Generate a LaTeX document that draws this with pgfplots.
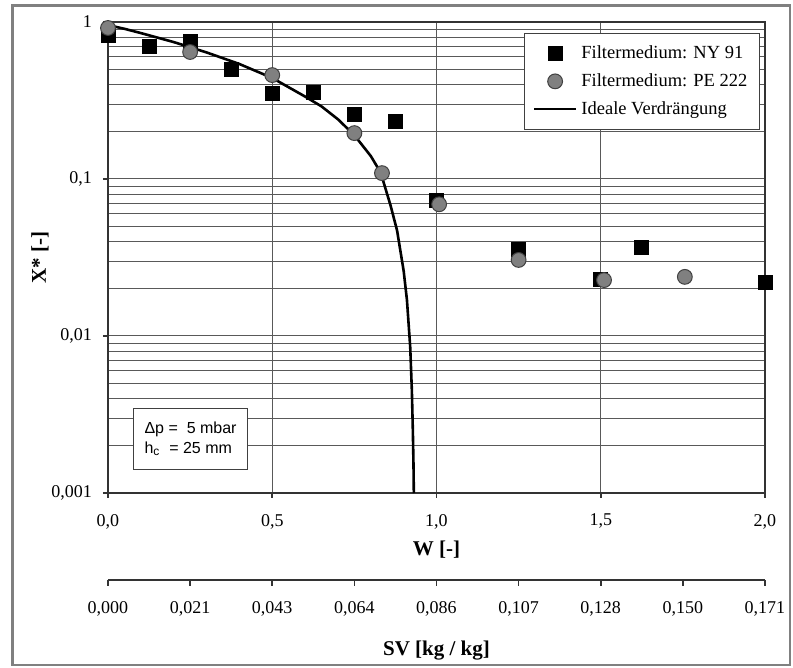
\documentclass[border=0pt]{standalone}
\usepackage{fontspec}
\setmainfont{Liberation Serif}
\newfontfamily\arialfont{Liberation Sans}
\usepackage{pgfplots}
\pgfplotsset{compat=1.18}
\definecolor{gridc}{gray}{0.35}
\definecolor{framec}{gray}{0.5}
\definecolor{pegray}{gray}{0.5}
\pgfplotsset{
  legmark/.style={legend image code/.code={\draw[mark repeat=2,mark phase=2,##1] plot coordinates {(0pt,0pt) (10.5pt,0pt) (21pt,0pt)};}},
  legline/.style={legend image code/.code={\draw[##1] (0pt,0pt) -- (21pt,0pt);}},
}

\begin{document}
\begin{tikzpicture}
\path[use as bounding box] (-54pt,-87.5pt) rectangle (342.5pt,246.5pt);
\draw[framec, line width=1.2pt] (-47.75pt,-86pt) rectangle (341pt,243.75pt);

\begin{axis}[
  at={(0pt,0pt)}, anchor=south west,
  scale only axis, width=328.5pt, height=235.5pt,
  xmin=0, xmax=2,
  ymode=log, ymin=0.001, ymax=1,
  xtick={0,0.5,1,1.5,2},
  xticklabels={{0,0},{0,5},{1,0},{1,5},{2,0}},
  ytick={0.001,0.01,0.1,1},
  yticklabels={{0,001},{0,01},{0,1},1},
  minor ytick={0.002,0.003,0.004,0.005,0.006,0.007,0.008,0.009,
               0.02,0.03,0.04,0.05,0.06,0.07,0.08,0.09,
               0.2,0.3,0.4,0.5,0.6,0.7,0.8,0.9},
  xmajorgrids, ymajorgrids, yminorgrids,
  grid style={gridc, line width=0.5pt},
  minor grid style={gridc, line width=0.5pt},
  tick pos=left, tick align=outside,
  major tick length=2.5pt, minor tick length=0pt,
  axis line style={black!80, line width=0.9pt},
  tick style={black!80, line width=0.8pt},
  ticklabel style={font=\fontsize{9}{10}\selectfont},
  xticklabel style={yshift=-4.5pt},
  yticklabel style={xshift=-2pt},
  xlabel={W [-]}, ylabel={X* [-]},
  label style={font=\fontsize{10.5}{12}\selectfont\bfseries},
  xlabel style={at={(axis description cs:0.5,0)}, anchor=center, yshift=-28.5pt},
  ylabel style={at={(axis description cs:-0.1035,0.5)}, anchor=center},
  legend style={at={(0.9924,0.9766)}, anchor=north east, draw=black!75,
    line width=0.6pt, fill=white, font=\fontsize{9.25}{11}\selectfont,
    inner xsep=4pt, inner ysep=4pt, row sep=2pt},
  legend cell align=left,
]
\addplot[only marks, mark=square*, mark size=3.5pt, black, legmark]
  coordinates {
  (0,0.826) (0.125,0.70) (0.25,0.757) (0.375,0.502) (0.5,0.353)
  (0.625,0.358) (0.75,0.259) (0.875,0.234) (1.0,0.0735)
  (1.25,0.0358) (1.5,0.0231) (1.625,0.0369) (2.0,0.0221)
  };
\addlegendentry{Filtermedium: NY 91}

\addplot[only marks, mark=*, mark size=3.7pt, draw=black!75, fill=pegray,
  mark options={line width=0.5pt}, legmark]
  coordinates {
  (0,0.916) (0.25,0.644) (0.5,0.459) (0.75,0.196) (0.834,0.109)
  (1.008,0.069) (1.25,0.0305) (1.51,0.0227) (1.756,0.0238)
  };
\addlegendentry{Filtermedium: PE 222}

\addplot[black, line width=1.3pt, no marks, legline]
  coordinates {
  (0,0.955) (0.05,0.905) (0.1,0.85) (0.2,0.745) (0.3,0.64) (0.4,0.54)
  (0.5,0.44) (0.6,0.335) (0.65,0.29) (0.7,0.24) (0.75,0.19) (0.8,0.14)
  (0.83,0.11) (0.86,0.068) (0.88,0.047) (0.9,0.026) (0.91,0.017)
  (0.92,0.0085) (0.925,0.0045) (0.928,0.0025) (0.93,0.0015) (0.931,0.001)
  };
\addlegendentry{Ideale Verdrängung}

\node[draw=black!75, line width=0.6pt, fill=white, anchor=south west,
  font=\arialfont\fontsize{8}{10}\selectfont, align=left,
  minimum width=57pt, minimum height=30.5pt, inner xsep=5pt]
  at (rel axis cs:0.038,0.0488) {Δp =\ \ 5 mbar\\h\textsubscript{c}\ \ = 25 mm};
\end{axis}

\begin{axis}[
  at={(0pt,-43.5pt)}, anchor=south west,
  scale only axis, width=328.5pt, height=20pt,
  xmin=0, xmax=2, ymin=0, ymax=1,
  axis x line=bottom, axis y line=none,
  x axis line style={-, black!80, line width=0.9pt},
  xtick={0,0.25,0.5,0.75,1,1.25,1.5,1.75,2},
  xticklabels={{0,000},{0,021},{0,043},{0,064},{0,086},{0,107},{0,128},{0,150},{0,171}},
  tick align=outside, major tick length=3pt,
  tick style={black!80, line width=0.8pt},
  ticklabel style={font=\fontsize{9}{10}\selectfont},
  xticklabel style={yshift=-4pt},
  xlabel={SV [kg / kg]},
  label style={font=\fontsize{10.5}{12}\selectfont\bfseries},
  xlabel style={at={(axis description cs:0.5,0)}, anchor=center, yshift=-35.5pt},
]
\end{axis}
\end{tikzpicture}
\end{document}
